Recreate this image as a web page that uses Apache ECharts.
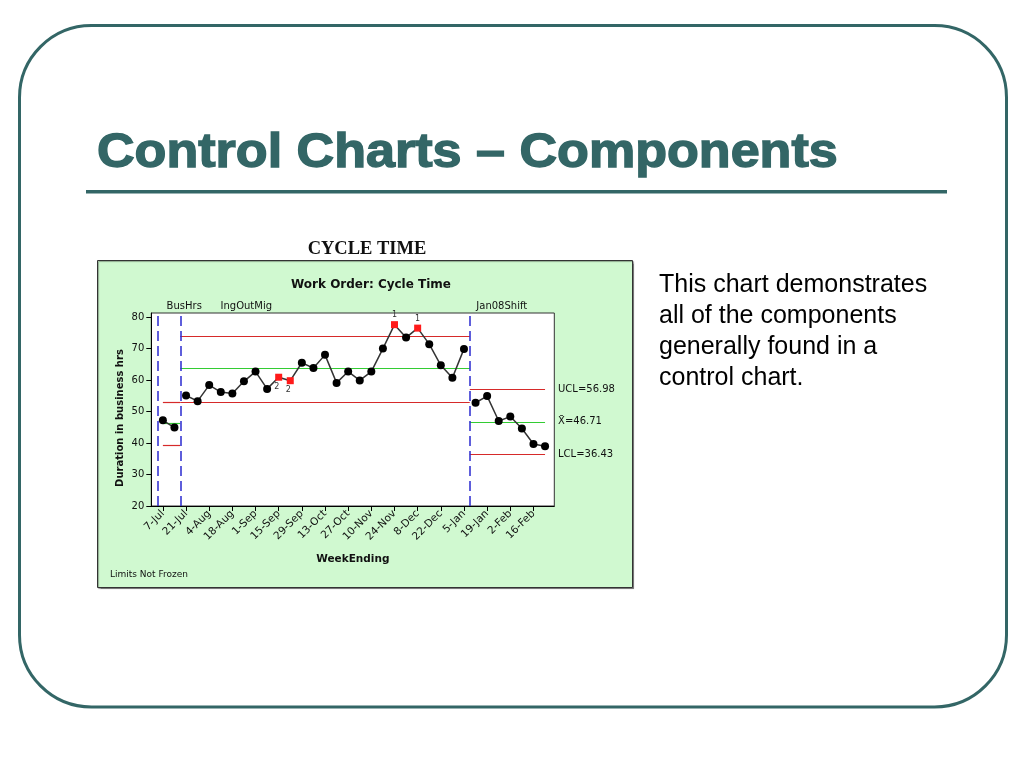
<!DOCTYPE html>
<html>
<head>
<meta charset="utf-8">
<script src="https://cdn.jsdelivr.net/npm/echarts@6/dist/echarts.min.js"></script>
<style>
html,body{margin:0;padding:0;background:#fff;}
#chart{width:1024px;height:768px;}
</style>
</head>
<body>
<div id="chart"></div>
<script>
// ---- data ----
const weekLabels = ['7-Jul','14-Jul','21-Jul','28-Jul','4-Aug','11-Aug','18-Aug','25-Aug','1-Sep','8-Sep',
  '15-Sep','22-Sep','29-Sep','6-Oct','13-Oct','20-Oct','27-Oct','3-Nov','10-Nov','17-Nov',
  '24-Nov','1-Dec','8-Dec','15-Dec','22-Dec','29-Dec','5-Jan','12-Jan','19-Jan','26-Jan',
  '2-Feb','9-Feb','16-Feb','23-Feb'];
const cycleHours = [47.2, 44.9, 55.1, 53.3, 58.4, 56.2, 55.7, 59.6, 62.7, 57.2,
  60.9, 59.8, 65.5, 63.8, 68.0, 59.1, 62.7, 59.9, 62.7, 70.0,
  77.6, 73.5, 76.5, 71.4, 64.7, 60.7, 69.9, 52.8, 54.9, 47.0,
  48.4, 44.6, 39.7, 39.0];
const phaseNames = ['BusHrs', 'IngOutMig', 'Jan08Shift'];
const phaseFirst = [0, 2, 27];
const phaseLast = [1, 26, 33];
const phaseLineAt = [-0.4, 1.5, 26.5];
const uclValues = [52.8, 73.9, 56.98];
const clValues = [46.3, 63.6, 46.71];
const lclValues = [39.3, 52.8, 36.43];
const failedTests = [[10, '2'], [11, '2'], [20, '1'], [22, '1']];
const yTicks = [20, 30, 40, 50, 60, 70, 80];
const xTickIdx = [0, 2, 4, 6, 8, 10, 12, 14, 16, 18, 20, 22, 24, 26, 28, 30, 32];

// ---- build chart ----
const TEAL = '#336666';
const RED = '#d62a2a';
const GREEN = '#33cc33';
const BLUE = '#2a2ad0';
const SMALL = 'DejaVu Sans';

const failMap = {};
failedTests.forEach(function (f) { failMap[f[0]] = f[1]; });

const labelOffsets = [[26, 0], [66, 0], [32, 0]];

const series = phaseNames.map(function (name, p) {
  const pts = [];
  for (let i = phaseFirst[p]; i <= phaseLast[p]; i++) {
    if (failMap[i] !== undefined) {
      const below = failMap[i] === '2';
      pts.push({
        value: [i, cycleHours[i]],
        symbol: 'rect',
        symbolSize: 7,
        itemStyle: { color: '#ff1a1a' },
        label: {
          show: true,
          formatter: failMap[i],
          position: below ? 'bottom' : 'top',
          distance: 2,
          offset: below ? [-2, 0] : [0, 0],
          fontFamily: SMALL,
          fontSize: 8,
          color: '#333'
        }
      });
    } else {
      pts.push([i, cycleHours[i]]);
    }
  }
  const x1 = p === 0 ? phaseFirst[0] : phaseLineAt[p];
  const x2 = p === phaseNames.length - 1 ? phaseLast[p] : phaseLineAt[p + 1];
  const isLast = p === phaseNames.length - 1;
  function seg(v, color, text) {
    return [
      { coord: [x1, v], lineStyle: { color: color, width: 1.2, type: 'solid' },
        label: { show: isLast, formatter: text, position: 'end', distance: 13,
          fontFamily: SMALL, fontSize: 10, color: '#111' } },
      { coord: [x2, v] }
    ];
  }
  const mlData = [
    seg(uclValues[p], RED, 'UCL=' + uclValues[p].toFixed(2)),
    seg(clValues[p], GREEN, 'X\u0304=' + clValues[p].toFixed(2)),
    seg(lclValues[p], RED, 'LCL=' + lclValues[p].toFixed(2))
  ];
  // vertical phase boundary
  mlData.push({
    xAxis: phaseLineAt[p],
    lineStyle: { color: BLUE, width: 1.5, type: [10, 5] },
    label: { show: true, formatter: name, position: 'end', distance: 2,
      offset: labelOffsets[p], fontFamily: SMALL, fontSize: 10, color: '#111' }
  });
  return {
    type: 'line',
    name: name,
    data: pts,
    symbol: 'circle',
    symbolSize: 8,
    itemStyle: { color: '#000' },
    lineStyle: { color: '#333', width: 1.5 },
    silent: true,
    animation: false,
    z: 3,
    markLine: {
      silent: true,
      symbol: 'none',
      animation: false,
      z: 2,
      data: mlData
    }
  };
});

const chart = echarts.init(document.getElementById('chart'));
chart.setOption({
  animation: false,
  backgroundColor: '#ffffff',
  grid: {
    left: 151.3, top: 313, width: 403, height: 193,
    show: true, backgroundColor: '#ffffff', borderColor: '#333', borderWidth: 1,
    containLabel: false
  },
  xAxis: {
    type: 'value',
    min: -1,
    max: 33.8,
    name: 'WeekEnding',
    nameLocation: 'middle',
    nameGap: 48,
    nameTextStyle: { fontFamily: SMALL, fontWeight: 'bold', fontSize: 10.5, color: '#111' },
    axisLine: { show: true, onZero: false, lineStyle: { color: '#000', width: 1 } },
    axisTick: { show: true, length: 5, customValues: xTickIdx, lineStyle: { color: '#000' } },
    axisLabel: {
      customValues: xTickIdx,
      rotate: 45,
      margin: 6,
      fontFamily: SMALL, fontSize: 10.5, color: '#111',
      formatter: function (v) { return weekLabels[Math.round(v)] || ''; }
    },
    splitLine: { show: false }
  },
  yAxis: {
    type: 'value',
    min: 20,
    max: 81.3,
    axisLine: { show: true, onZero: false, lineStyle: { color: '#000', width: 1 } },
    axisTick: { show: true, length: 5, customValues: yTicks, lineStyle: { color: '#000' } },
    axisLabel: { customValues: yTicks, margin: 7, fontFamily: SMALL, fontSize: 10, color: '#111' },
    splitLine: { show: false }
  },
  graphic: [
    { type: 'rect', z: -20, silent: true,
      shape: { x: 19.5, y: 25.5, width: 987, height: 681.5, r: 72 },
      style: { fill: '#ffffff', stroke: TEAL, lineWidth: 3 } },
    { type: 'text', z: -5, silent: true, x: 97, y: 154, scaleX: 1.085,
      style: { text: 'Control Charts \u2013 Components', fill: TEAL, stroke: TEAL, lineWidth: 1.4,
        font: 'bold 48px "Liberation Sans", Arial, sans-serif', verticalAlign: 'middle', align: 'left' } },
    { type: 'rect', z: -5, silent: true,
      shape: { x: 86, y: 190, width: 861, height: 3.5 },
      style: { fill: TEAL } },
    { type: 'text', z: -5, silent: true, x: 659, y: 270.2,
      style: { text: 'This chart demonstrates\nall of the components\ngenerally found in a\ncontrol chart.',
        fill: '#000', font: '25px "Liberation Sans", Arial, sans-serif', lineHeight: 30.8,
        verticalAlign: 'top', align: 'left' } },
    { type: 'text', z: -5, silent: true, x: 367, y: 249.5,
      style: { text: 'CYCLE TIME', fill: '#111',
        font: 'bold 18.5px "Liberation Serif", "Times New Roman", serif', align: 'center', verticalAlign: 'middle' } },
    { type: 'rect', z: -10, silent: true,
      shape: { x: 97.5, y: 260.5, width: 535, height: 327 },
      style: { fill: '#d0f9d0', stroke: '#333', lineWidth: 1,
        shadowColor: 'rgba(0,0,0,0.35)', shadowOffsetX: 1, shadowOffsetY: 1, shadowBlur: 1 } },
    { type: 'text', z: -5, silent: true, x: 371, y: 285,
      style: { text: 'Work Order: Cycle Time', fill: '#111',
        font: 'bold 12px "DejaVu Sans", sans-serif', align: 'center', verticalAlign: 'middle' } },
    { type: 'text', z: -5, silent: true, x: 120, y: 418, rotation: Math.PI / 2,
      style: { text: 'Duration in business hrs', fill: '#111',
        font: 'bold 10px "DejaVu Sans", sans-serif', align: 'center', verticalAlign: 'middle' } },
    { type: 'text', z: -5, silent: true, x: 110, y: 575,
      style: { text: 'Limits Not Frozen', fill: '#111',
        font: '9px "DejaVu Sans", sans-serif', align: 'left', verticalAlign: 'middle' } }
  ],
  series: series
});
</script>
</body>
</html>
